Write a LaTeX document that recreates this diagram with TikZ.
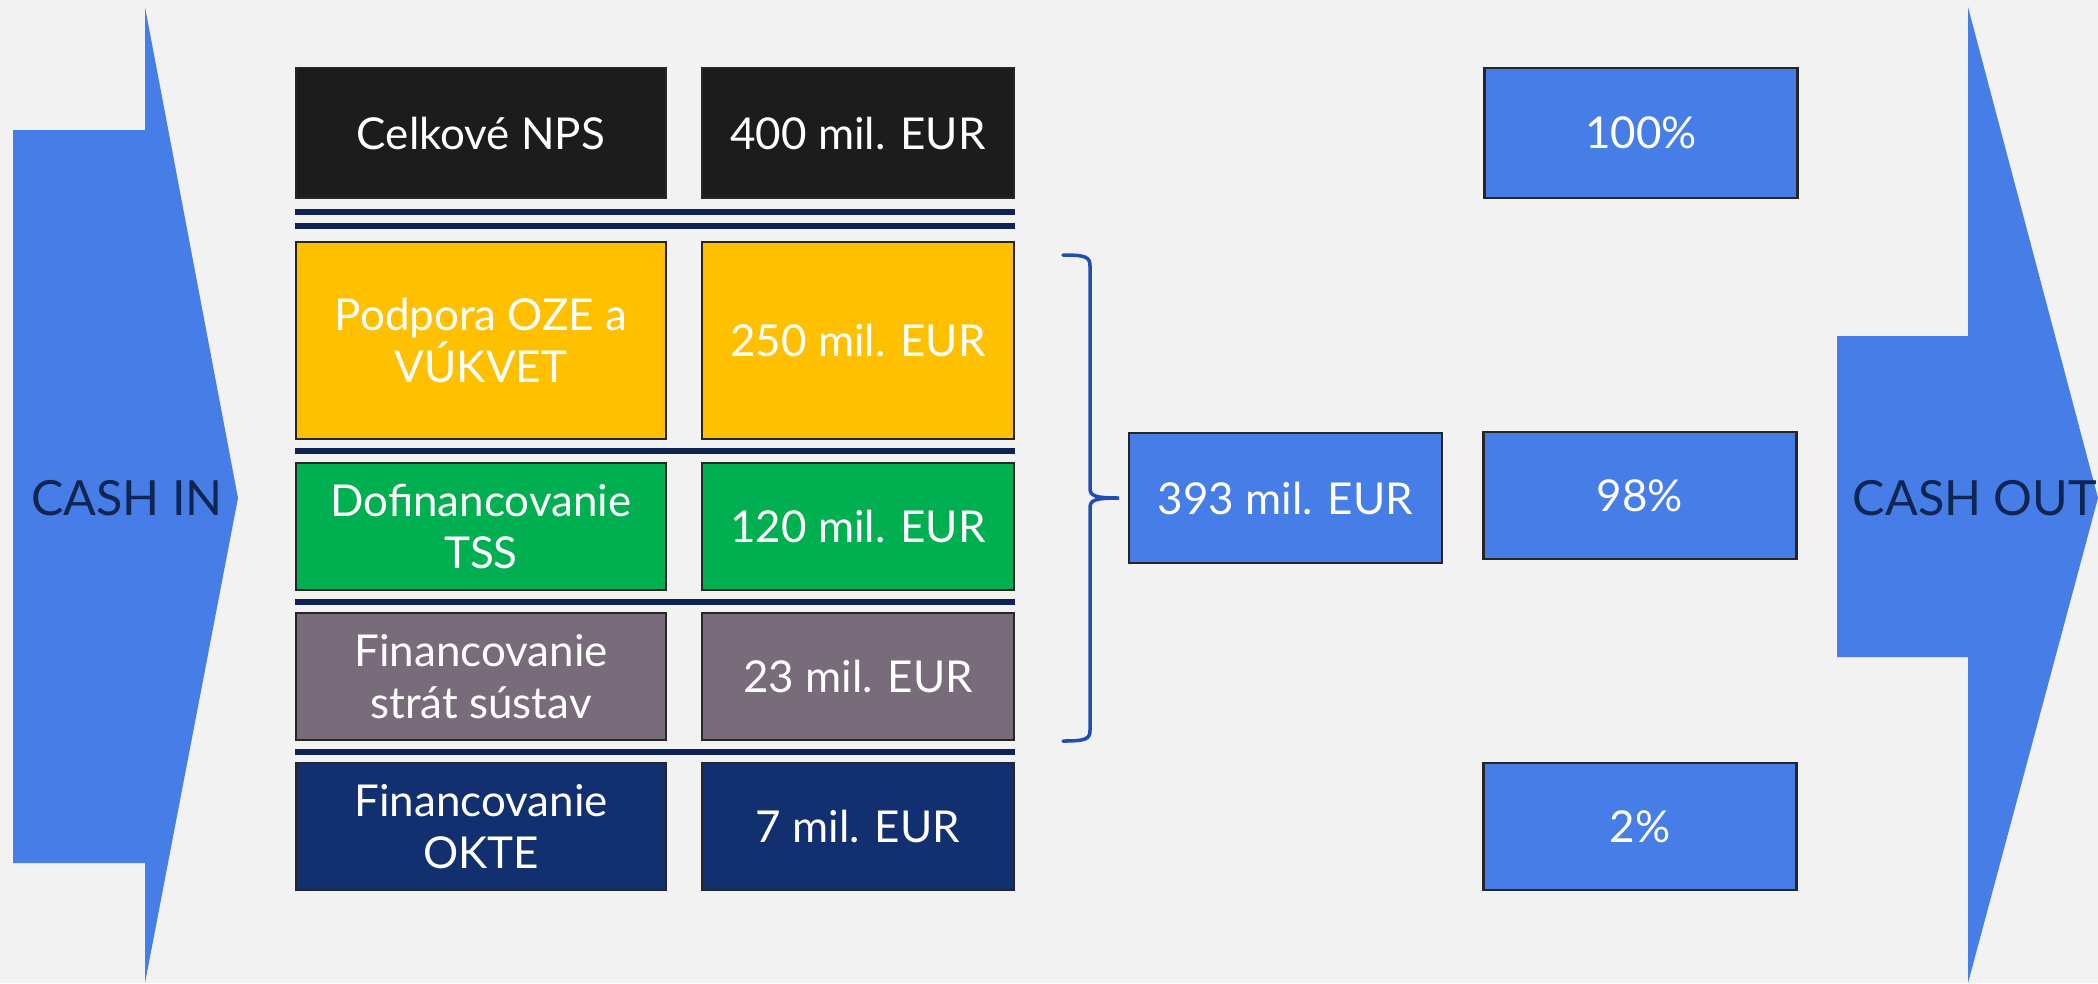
\documentclass[tikz,border=0pt]{standalone}
\usepackage{fontspec}
\setmainfont{Lato}
\usepackage{xcolor}
\definecolor{pagebg}{HTML}{F2F2F2}
\definecolor{cashblue}{HTML}{467DE6}
\definecolor{textnavy}{HTML}{0F2552}
\definecolor{sepnavy}{HTML}{0E2352}
\definecolor{bracecol}{HTML}{1F4FB3}
\definecolor{npsblack}{HTML}{1C1C1C}
\definecolor{ozeyellow}{HTML}{FFC000}
\definecolor{tssgreen}{HTML}{00B050}
\definecolor{lossgrey}{HTML}{786B7A}
\definecolor{oktenavy}{HTML}{12306F}
\usetikzlibrary{calc}

\begin{document}
\begin{tikzpicture}[
            font=\fontsize{12.5}{15}\selectfont,
            % --- node styles ---
            cell/.style={
                draw=black!85, line width=0.6pt,
                text=white, align=center, inner sep=2pt,
                minimum height=12.7mm
            },
            labelcell/.style={cell, minimum width=37mm},
            valuecell/.style={cell, minimum width=31.2mm},
            sharecell/.style={cell, fill=cashblue, minimum width=31.3mm},
            flowlabel/.style={
                text=textnavy, inner sep=0pt,
                font=\fontsize{13.8}{15}\selectfont
            },
            % --- line styles ---
            sep/.style={draw=sepnavy, line width=1.7pt},
            bracepen/.style={draw=bracecol, line width=1pt, line cap=round}
        ]

        % ============================================================
        %  Layout: 1 unit = 100 px of the 2098 x 983 sheet, origin in
        %  the top left corner, y pointing down (negative).
        % ============================================================
        \useasboundingbox (0,0) rectangle (20.98,-9.83);
        \fill[pagebg] (0,0) rectangle (20.98,-9.83);

        % --- big flow arrows ---
        \fill[cashblue] (0.13,-1.30) -- (1.45,-1.30) -- (1.45,-0.07)
            -- (2.38,-4.98) -- (1.45,-9.83) -- (1.45,-8.63)
            -- (0.13,-8.63) -- cycle;
        \fill[cashblue] (18.37,-3.36) -- (19.68,-3.36) -- (19.68,-0.07)
            -- (20.98,-4.98) -- (19.68,-9.83) -- (19.68,-6.57)
            -- (18.37,-6.57) -- cycle;

        \node[flowlabel] (cashin) at (1.27,-4.98) {CASH IN};
        \node[flowlabel] (cashout) at (19.75,-4.98) {CASH OUT};

        % --- Row 1: total ---
        \node[labelcell, fill=npsblack, minimum height=13mm] (nps) at (4.81,-1.33)
            {Celkové NPS};
        \node[valuecell, fill=npsblack, minimum height=13mm] (npsval) at (8.58,-1.33)
            {400 mil. EUR};

        % --- Rows 2-5: components ---
        \node[labelcell, fill=ozeyellow, minimum height=19.7mm] (oze) at (4.81,-3.405)
            {Podpora OZE a\\VÚKVET};
        \node[valuecell, fill=ozeyellow, minimum height=19.7mm] (ozeval) at (8.58,-3.405)
            {250 mil. EUR};

        \node[labelcell, fill=tssgreen] (tss) at (4.81,-5.265)
            {Dofinancovanie\\TSS};
        \node[valuecell, fill=tssgreen] (tssval) at (8.58,-5.265)
            {120 mil. EUR};

        \node[labelcell, fill=lossgrey] (straty) at (4.81,-6.765)
            {Financovanie\\strát sústav};
        \node[valuecell, fill=lossgrey] (stratyval) at (8.58,-6.765)
            {23 mil. EUR};

        \node[labelcell, fill=oktenavy] (okte) at (4.81,-8.265)
            {Financovanie\\OKTE};
        \node[valuecell, fill=oktenavy] (okteval) at (8.58,-8.265)
            {7 mil. EUR};

        % --- Sum and shares ---
        \node[sharecell, minimum height=13mm] (sum) at (12.855,-4.98)
            {393 mil. EUR};

        \node[sharecell, minimum height=13mm] (share100) at (16.41,-1.33) {100\%};
        \node[sharecell] (share98) at (16.40,-4.955) {98\%};
        \node[sharecell] (share2) at (16.40,-8.265) {2\%};

        % ===== Separators between rows =====
        \draw[sep] ([yshift=-1.3mm]nps.south west) -- ([yshift=-1.3mm]npsval.south east);
        \draw[sep] ([yshift=-2.7mm]nps.south west) -- ([yshift=-2.7mm]npsval.south east);
        \draw[sep] ($(oze.south west)!0.5!(tss.north west)$)
            -- ($(ozeval.south east)!0.5!(tssval.north east)$);
        \draw[sep] ($(tss.south west)!0.5!(straty.north west)$)
            -- ($(tssval.south east)!0.5!(stratyval.north east)$);
        \draw[sep] ($(straty.south west)!0.5!(okte.north west)$)
            -- ($(stratyval.south east)!0.5!(okteval.north east)$);

        % ===== Brace: rows 2-4 into the sum =====
        \coordinate (bracetop) at (10.63,-2.55);
        \coordinate (bracebot) at (10.63,-7.41);
        \coordinate (bracetip) at (11.19,-4.98);
        \draw[bracepen] (bracetop) .. controls (10.86,-2.55) and (10.90,-2.57) .. (10.90,-2.66)
            -- (10.90,-4.88) .. controls (10.90,-4.96) and (10.95,-4.98) .. (bracetip)
            .. controls (10.95,-4.98) and (10.90,-5.00) .. (10.90,-5.08)
            -- (10.90,-7.30) .. controls (10.90,-7.39) and (10.86,-7.41) .. (bracebot);

        \end{tikzpicture}
\end{document}
